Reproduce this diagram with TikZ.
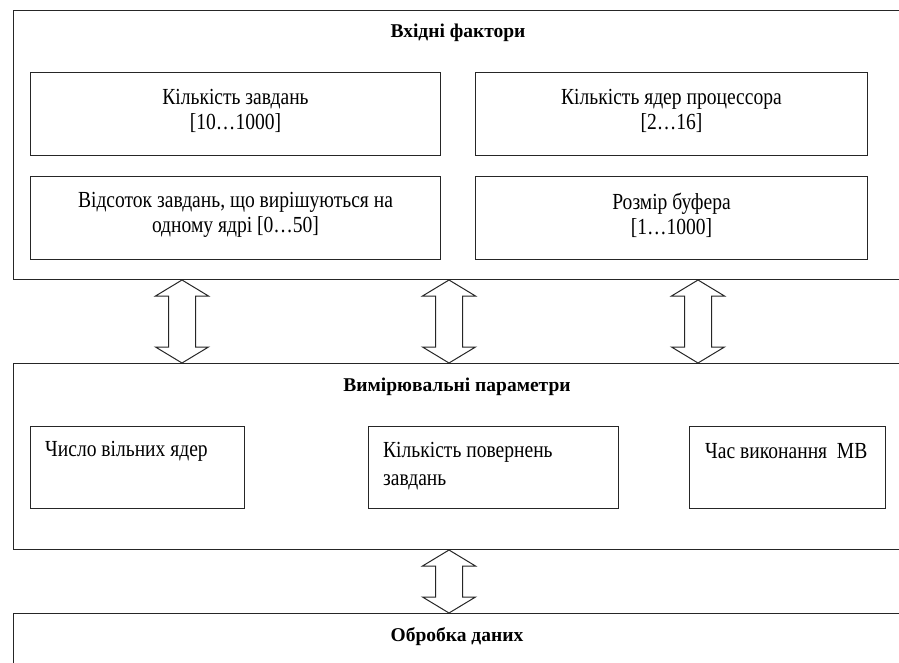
\documentclass[tikz,border=0pt]{standalone}
\usepackage{fontspec}
\setmainfont{Liberation Serif}[FakeStretch=0.85]
\newfontfamily\ttlfont{Liberation Serif}
\usetikzlibrary{calc,positioning}
\tikzset{
  frame/.style={draw=black!85, line width=1pt, rectangle, inner sep=0pt, anchor=north west},
  inbox/.style={draw=black!85, line width=1pt, rectangle, inner sep=0pt, anchor=north west},
  ctxt/.style={font=\fontsize{23}{25}\selectfont, inner sep=0pt, align=center},
  ttl/.style={font=\ttlfont\fontsize{19.5}{23}\selectfont\bfseries, inner sep=0pt},
  txt/.style={font=\fontsize{23}{28}\selectfont, inner sep=0pt, anchor=west, align=left},
  blockarrow/.style={draw=black!85, line width=1pt, fill=white, line join=miter}
}
\newcommand{\barrow}[2]{%
  \draw[blockarrow] (#1) -- ($(#1)+(26.5,16)$) -- ($(#1)+(13.5,16)$) -- ($(#2)+(13.5,-16)$) -- ($(#2)+(26.5,-16)$) -- (#2) -- ($(#2)+(-26.5,-16)$) -- ($(#2)+(-13.5,-16)$) -- ($(#1)+(-13.5,16)$) -- ($(#1)+(-26.5,16)$) -- cycle;}
\begin{document}
\begin{tikzpicture}[x=1pt,y=-1pt]
\useasboundingbox (0,0) rectangle (899,662);
\clip (0,0) rectangle (899,662);
% outer frames
\node[frame, minimum width=900pt, minimum height=269pt] (in) at (13,10) {};
\node[frame, minimum width=900pt, minimum height=186pt] (me) at (13,363) {};
\node[frame, minimum width=900pt, minimum height=80pt] (pr) at (13,613) {};
% titles
\node[ttl] (tin) at (458,33) {Вхідні фактори};
\node[ttl] (tme) at (457,387) {Вимірювальні параметри};
\node[ttl] (tpr) at (457,637) {Обробка даних};
% input factor boxes
\node[inbox, minimum width=410pt, minimum height=83pt] (f1) at (30,72) {};
\node[inbox, minimum width=392pt, minimum height=83pt] (f2) at (475,72) {};
\node[inbox, minimum width=410pt, minimum height=83pt] (f3) at (30,176) {};
\node[inbox, minimum width=392pt, minimum height=83pt] (f4) at (475,176) {};
\node[ctxt] (tf1) at ($(f1.center)+(0,-3)$) {Кількість завдань\\{}[10…1000]};
\node[ctxt] (tf2) at ($(f2.center)+(0,-3)$) {Кількість ядер процессора\\{}[2…16]};
\node[ctxt] (tf3) at ($(f3.center)+(0,-3)$) {Відсоток завдань, що вирішуються на\\одному ядрі [0…50]};
\node[ctxt] (tf4) at ($(f4.center)+(0,-3)$) {Розмір буфера\\{}[1…1000]};
% measured parameter boxes
\node[inbox, minimum width=214pt, minimum height=82pt] (p1) at (30,426) {};
\node[inbox, minimum width=250pt, minimum height=82pt] (p2) at (368,426) {};
\node[inbox, minimum width=196pt, minimum height=82pt] (p3) at (689,426) {};
\node[txt] (t1) at ($(p1.north west)+(15,25)$) {Число вільних ядер};
\node[txt, anchor=north west] (t2) at ($(p2.north west)+(15,16)$) {Кількість повернень\\завдань};
\node[txt] (t3) at ($(p3.north west)+(16,25)$) {Час виконання\ \ МВ};
% arrows
\coordinate (a1t) at (in.south -| 182,0);
\coordinate (a1b) at (me.north -| 182,0);
\coordinate (a2t) at (in.south -| 449,0);
\coordinate (a2b) at (me.north -| 449,0);
\coordinate (a3t) at (in.south -| 698,0);
\coordinate (a3b) at (me.north -| 698,0);
\coordinate (a4t) at (me.south -| 449,0);
\coordinate (a4b) at (pr.north -| 449,0);
\barrow{a1t}{a1b}
\barrow{a2t}{a2b}
\barrow{a3t}{a3b}
\barrow{a4t}{a4b}
\end{tikzpicture}
\end{document}
